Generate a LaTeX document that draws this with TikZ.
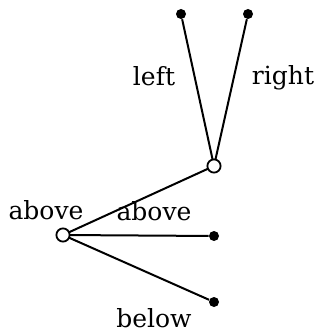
\documentclass[tikz,border=0pt]{standalone}
\usepackage{fontspec}
\setmainfont{DejaVu Serif}
\usetikzlibrary{positioning}
\tikzset{
  opn/.style ={circle,draw,fill=white,line width=.9pt,inner sep=0pt,minimum size=6.6pt},
  leaf/.style={circle,fill=black,inner sep=0pt,minimum size=5pt},
  edg/.style ={line width=1pt},
  lbl/.style ={font=\fontsize{12.5}{14}\selectfont,inner sep=0pt},
}
\begin{document}
\begin{tikzpicture}[x=0.5pt,y=-0.5pt]
  \useasboundingbox (0,0) rectangle (320,331);

  % ---------- nodes ----------
  \node[leaf] (tl) at (181,14) {};
  \node[leaf] (tr) at (248,14) {};
  \node[leaf] (mid) at (214,236) {};
  \node[leaf] (low) at (214,302) {};

  % ---------- edges ----------
  \coordinate (rootc) at (63,235);
  \coordinate (topc) at (214,166);
  \draw[edg] (rootc) -- (topc);
  \draw[edg] (rootc) -- (mid);
  \draw[edg] (rootc) -- (low);
  \draw[edg] (topc) -- (tl);
  \draw[edg] (topc) -- (tr);
  \node[opn] (root) at (rootc) {};
  \node[opn] (top) at (topc) {};

  % ---------- labels ----------
  \node[lbl] (lleft) at (154,76) {left};
  \node[lbl] (lright) at (283,78) {right};
  \node[lbl] (lroot) at (46,210) {above};
  \node[lbl] (ledge) at (154,211) {above};
  \node[lbl] (lbelow) at (154,318) {below};
\end{tikzpicture}
\end{document}
